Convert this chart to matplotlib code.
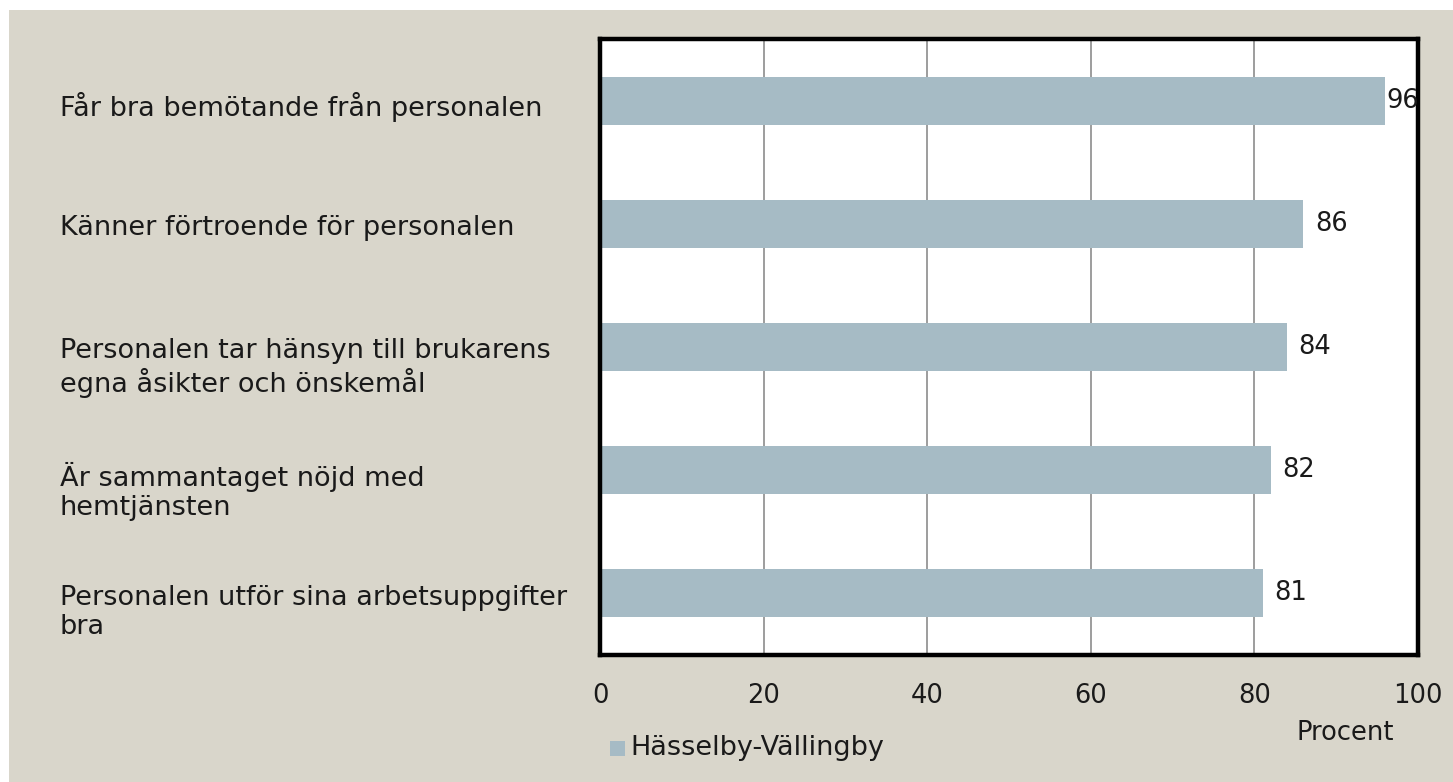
import numpy as np
import matplotlib.pyplot as plt
from matplotlib.patches import Rectangle
from matplotlib.transforms import blended_transform_factory

# data
categories = [
    "Får bra bemötande från personalen",
    "Känner förtroende för personalen",
    "Personalen tar hänsyn till brukarens\negna åsikter och önskemål",
    "Är sammantaget nöjd med\nhemtjänsten",
    "Personalen utför sina arbetsuppgifter\nbra",
]
values = [96, 86, 84, 82, 81]
series_name = "Hässelby-Vällingby"
x_ticks = [0, 20, 40, 60, 80, 100]

bg = "#D9D6CB"
bar_color = "#A6BBC5"
text_color = "#1a1a1a"
fs = 19.5

plt.rcParams["font.family"] = "DejaVu Sans"

W, H = 1453, 782
fig = plt.figure(figsize=(W / 100, H / 100), dpi=100)
fig.patch.set_facecolor("white")
# beige panel (white strip on left and top)
fig.patches.append(Rectangle((9 / W, 0), 1 - 9 / W, 1 - 10 / H,
                             transform=fig.transFigure, facecolor=bg,
                             edgecolor="none", zorder=-10))

ax = fig.add_axes([600 / W, 1 - 655 / H, (1418 - 600) / W, (655 - 39) / H])
ax.set_facecolor("white")

pos = np.arange(len(categories))
ax.barh(pos, values, height=0.39, color=bar_color, zorder=2)
ax.set_xlim(0, 100)
ax.set_ylim(len(categories) - 0.5, -0.5)

ax.set_xticks(x_ticks)
ax.set_xticklabels([str(t) for t in x_ticks], fontsize=18.5, color=text_color)
ax.tick_params(axis="x", length=0, pad=20)
ax.set_yticks([])
ax.grid(axis="x", color="#8c8c8c", linewidth=1.2, zorder=1)

for s in ax.spines.values():
    s.set_linewidth(3.2)
    s.set_color("black")

# value labels
for p, v in zip(pos, values):
    x = v + 1.4 if v + 5 < 100 else v + 0.1
    ax.text(x, p, str(v), va="center", ha="left", fontsize=18.5,
            color=text_color, zorder=3)

# category labels, left aligned
trans = blended_transform_factory(fig.transFigure, ax.transData)
for p, lab in zip(pos, categories):
    ax.text(60 / W, p - 0.07, lab, transform=trans, ha="left", va="top",
            fontsize=fs, color=text_color, linespacing=1.15)

# axis title and legend
fig.text(1345 / W, 1 - 733 / H, "Procent", ha="center", va="center",
         fontsize=18.5, color=text_color)
fig.patches.append(Rectangle((610 / W, 1 - 756 / H), 15 / W, 15 / H,
                             transform=fig.transFigure, facecolor=bar_color,
                             edgecolor="none"))
fig.text(630 / W, 1 - 748 / H, series_name, ha="left", va="center",
         fontsize=fs, color=text_color)

fig.savefig("out.png", dpi=100, facecolor=fig.get_facecolor())
